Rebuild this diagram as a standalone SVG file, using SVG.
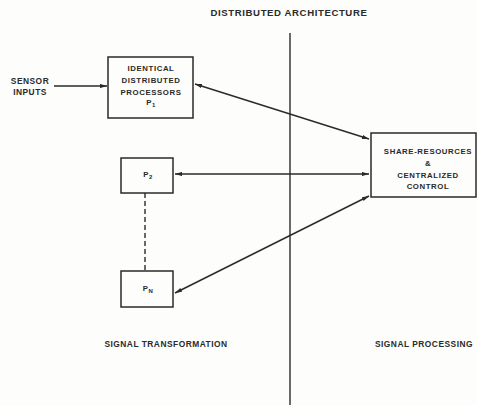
<svg xmlns="http://www.w3.org/2000/svg" width="477" height="405" viewBox="0 0 477 405">
<defs>
<marker id="ah" viewBox="0 0 10 6" refX="10" refY="3" markerWidth="7" markerHeight="4.2" orient="auto-start-reverse" markerUnits="userSpaceOnUse">
<path d="M0,0 L10,3 L0,6 Z" fill="#2a2a2a"/>
</marker>
</defs>
<style>
.box{fill:none;stroke:#2a2a2a;stroke-width:1.5}
.ln{fill:none;stroke:#2a2a2a;stroke-width:1.4}
text{font-family:"Liberation Sans",Arial,sans-serif;font-weight:bold;fill:#2a2a2a;text-anchor:middle}
.t{font-size:7.8px;letter-spacing:0.6px}
.lb{font-size:8.4px;letter-spacing:0.5px}
.ti{font-size:9.6px;letter-spacing:0.6px}
</style>
<rect width="477" height="405" fill="#fdfdfc"/>
<g id="title"><text class="ti" x="289" y="16">DISTRIBUTED ARCHITECTURE</text></g>
<g id="divider"><line class="ln" x1="290" y1="33" x2="290" y2="405"/></g>
<g id="sensor"><text class="lb" x="30" y="84">SENSOR</text><text class="lb" x="30" y="95">INPUTS</text></g>
<g id="p1">
<rect class="box" x="108" y="57" width="85" height="61"/>
<text class="t" x="151" y="71">IDENTICAL</text>
<text class="t" x="151" y="83">DISTRIBUTED</text>
<text class="t" x="151" y="95">PROCESSORS</text>
<text class="t" x="151" y="105">P<tspan font-size="6" dy="2">1</tspan></text>
</g>
<g id="shared">
<rect class="box" x="371" y="133" width="105" height="64"/>
<text class="t" x="428" y="154">SHARE-RESOURCES</text>
<text class="t" x="428" y="166">&amp;</text>
<text class="t" x="428" y="178">CENTRALIZED</text>
<text class="t" x="428" y="189">CONTROL</text>
</g>
<g id="p2">
<rect class="box" x="121" y="158" width="52" height="35"/>
<text class="t" x="148" y="177">P<tspan font-size="6" dy="2">2</tspan></text>
</g>
<g id="pn">
<rect class="box" x="121" y="271" width="52" height="36"/>
<text class="t" x="148" y="291">P<tspan font-size="6" dy="2">N</tspan></text>
</g>
<g id="connectors">
<line class="ln" x1="54" y1="86" x2="107" y2="86" marker-end="url(#ah)"/>
<line class="ln" x1="195" y1="84" x2="369" y2="139" marker-start="url(#ah)" marker-end="url(#ah)"/>
<line class="ln" x1="175" y1="174" x2="369" y2="174" marker-start="url(#ah)" marker-end="url(#ah)"/>
<line class="ln" x1="175" y1="293" x2="369" y2="196" marker-start="url(#ah)" marker-end="url(#ah)"/>
<line class="ln" x1="145" y1="193" x2="145" y2="271" stroke-dasharray="5,3"/>
</g>
<g id="sections">
<text class="lb" x="166" y="347">SIGNAL TRANSFORMATION</text>
<text class="lb" x="424" y="347">SIGNAL PROCESSING</text>
</g>
</svg>
